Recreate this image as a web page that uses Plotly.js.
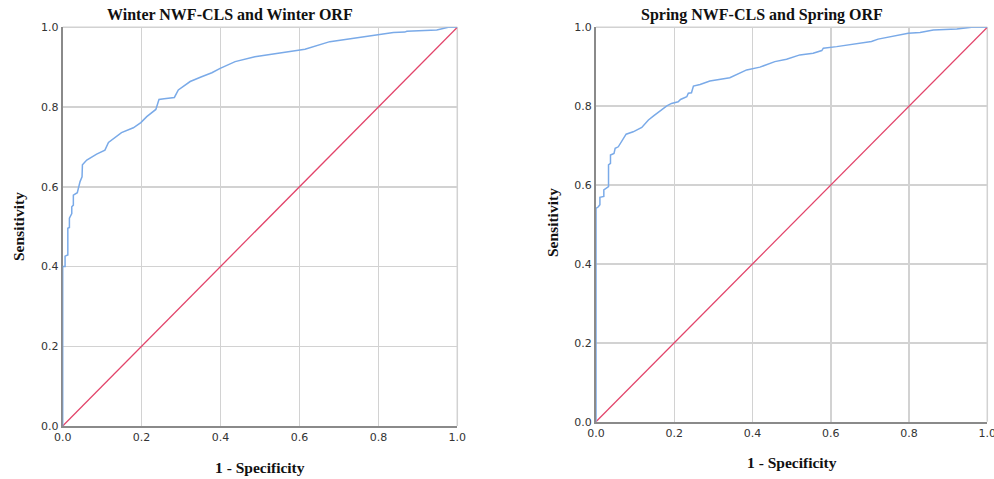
<!DOCTYPE html>
<html>
<head>
<meta charset="utf-8">
<script src="https://cdn.plot.ly/plotly-3.0.1.min.js"></script>
<style>html,body{margin:0;padding:0;background:#fff;}#chart{width:994px;height:479px;}</style>
</head>
<body>
<div id="chart"></div>
<script>
// Winter ROC curve (1 - Specificity, Sensitivity)
const winterFPR = [0,0,0.006,0.006,0.013,0.013,0.017,0.017,0.023,0.023,0.027,0.027,0.037,0.044,0.049,0.050,0.061,0.086,0.107,0.116,0.149,0.179,0.198,0.213,0.236,0.238,0.244,0.257,0.283,0.293,0.323,0.352,0.378,0.399,0.437,0.487,0.559,0.614,0.677,0.736,0.804,0.838,0.867,0.872,0.948,0.977,1];
const winterTPR = [0,0.400,0.400,0.426,0.429,0.496,0.498,0.521,0.533,0.550,0.554,0.579,0.585,0.613,0.625,0.655,0.667,0.682,0.692,0.711,0.736,0.748,0.761,0.776,0.794,0.800,0.819,0.821,0.824,0.843,0.864,0.876,0.886,0.897,0.914,0.926,0.936,0.945,0.964,0.972,0.982,0.987,0.988,0.990,0.993,1.0,1.0];
// Spring ROC curve
const springFPR = [0,0,0.006,0.010,0.010,0.020,0.020,0.032,0.032,0.037,0.037,0.046,0.049,0.057,0.077,0.095,0.117,0.134,0.148,0.168,0.181,0.193,0.210,0.216,0.232,0.236,0.244,0.249,0.266,0.291,0.342,0.385,0.419,0.457,0.487,0.521,0.555,0.577,0.581,0.615,0.658,0.704,0.721,0.768,0.798,0.828,0.862,0.922,0.960,1];
const springTPR = [0,0.541,0.545,0.550,0.569,0.571,0.588,0.596,0.651,0.655,0.676,0.680,0.693,0.697,0.729,0.735,0.746,0.765,0.776,0.790,0.801,0.807,0.811,0.817,0.824,0.833,0.834,0.851,0.855,0.864,0.872,0.892,0.899,0.913,0.919,0.930,0.934,0.941,0.947,0.951,0.957,0.964,0.970,0.979,0.985,0.987,0.993,0.996,1.0,1.0];
// Reference line
const refLine = [0,1];
const tickVals = [0,0.2,0.4,0.6,0.8,1.0];
const tickText = ['0.0','0.2','0.4','0.6','0.8','1.0'];
const titles = ['Winter NWF-CLS and Winter ORF','Spring NWF-CLS and Spring ORF'];
const xTitle = '1 - Specificity';
const yTitle = 'Sensitivity';

const blue = '#7aaae8';
const red = '#e2446a';

const traces = [
  {x: refLine, y: refLine, xaxis:'x', yaxis:'y', mode:'lines', line:{color:red, width:1.3}, hoverinfo:'skip'},
  {x: winterFPR, y: winterTPR, xaxis:'x', yaxis:'y', mode:'lines', line:{color:blue, width:1.5}, cliponaxis:false},
  {x: refLine, y: refLine, xaxis:'x2', yaxis:'y2', mode:'lines', line:{color:red, width:1.3}, hoverinfo:'skip'},
  {x: springFPR, y: springTPR, xaxis:'x2', yaxis:'y2', mode:'lines', line:{color:blue, width:1.5}, cliponaxis:false}
];

const tickFont = {family:'DejaVu Sans, sans-serif', size:11, color:'#333'};
function ax(domain, anchor) {
  return {domain: domain, anchor: anchor, range:[0,1], tickvals: tickVals, ticktext: tickText,
    showgrid:true, gridcolor:'#d2d2d2', gridwidth:1.5, zeroline:false, layer:'below traces',
    ticklabeloverflow:'allow',
    showline:true, linecolor:'#8a8a8a', linewidth:2, ticks:'', tickfont: tickFont, fixedrange:true};
}
const ann = (x, y, text, size, rot) => ({xref:'paper', yref:'paper', x: x/994, y: 1 - y/479, text: '<b>'+text+'</b>', showarrow:false,
  font: {family:'Liberation Serif, Times New Roman, serif', size:size, color:'#111'}, textangle: rot||0, xanchor:'center', yanchor:'middle'});

const border = (xr, yr) => [
  {type:'line', layer:'below', xref: xr+' domain', yref: yr+' domain', x0:0, x1:1, y0:1, y1:1, line:{color:'#d2d2d2', width:1.5}},
  {type:'line', layer:'below', xref: xr+' domain', yref: yr+' domain', x0:1, x1:1, y0:0, y1:1, line:{color:'#d2d2d2', width:1.5}}
];

const layout = {
  width:994, height:479, margin:{l:0,r:0,t:0,b:0}, showlegend:false,
  paper_bgcolor:'#fff', plot_bgcolor:'#fff',
  xaxis: ax([62.7/994, 457.3/994], 'y'),
  yaxis: ax([(479-426)/479, (479-27.3)/479], 'x'),
  xaxis2: ax([596/994, 987.3/994], 'y2'),
  yaxis2: ax([(479-421.7)/479, (479-27.3)/479], 'x2'),
  shapes: border('x','y').concat(border('x2','y2')),
  annotations: [
    ann(230, 15, titles[0], 16), ann(762, 15, titles[1], 16),
    ann(260, 467, xTitle, 15.5), ann(792, 462, xTitle, 15.5),
    ann(18, 227, yTitle, 15.5, -90), ann(552, 223, yTitle, 15.5, -90)
  ]
};
Plotly.newPlot('chart', traces, layout, {displayModeBar:false, staticPlot:true});
</script>
</body>
</html>
